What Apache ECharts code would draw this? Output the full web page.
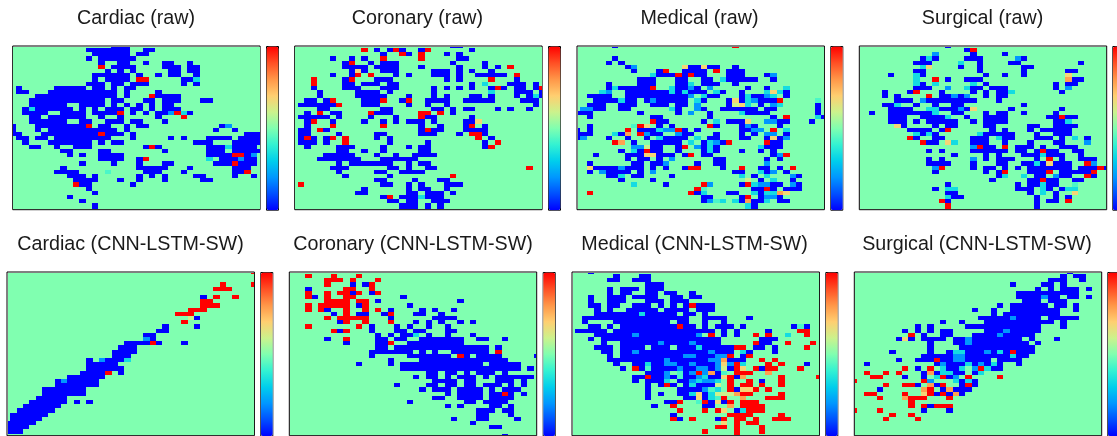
<!DOCTYPE html>
<html><head><meta charset="utf-8">
<style>html,body{margin:0;padding:0;background:#fff;overflow:hidden}#c{width:1117px;height:436px}</style>
<script src="https://cdn.jsdelivr.net/npm/echarts@6/dist/echarts.min.js"></script>
</head><body><div id="c"></div>
<script>
// Each row: tokens "col" or "from-to", optional suffix for the cell level. Unlisted cells = neutral 0.5.
const levels = {b:0, l:0.2, c:0.34, t:0.43, g:0.6, y:0.68, o:0.78, r:1};
const neutralValue = 0.5;
const gridSize = 40;
const titles = ["Cardiac (raw)","Coronary (raw)","Medical (raw)","Surgical (raw)","Cardiac (CNN-LSTM-SW)","Coronary (CNN-LSTM-SW)","Medical (CNN-LSTM-SW)","Surgical (CNN-LSTM-SW)"];
const paletteColors = ["#0000ff","#004fff","#0096ff","#00ceec","#33f2d2","#80ffb0","#ccf28c","#ffce70","#ff9648","#ff4f24","#ff0000"];

const cardiacRaw = [
"16-18","12-18 21-22","13-18 20-21","12 14-19","14 17-18 21 24-25 28","14r 16-19 24-26 28-29","15 17 19 25-26 28-29","13-18 20 23 25-26 29",
"13 15-18 20-21r 27-28 29c","12-14 16-17 19-21 27 29","1 7-11 13-14 16 18-19","1-2 6-16 18 23","4-16 18 22r 23-26","3-14 16-17 21-22 24-26 30-31","3-8 11-14 16 18 20 22 24-25",
"2 3c 4-9 11 13 15-17 19-20 22 24-26","2-5 8-11 13-16 17r 19 21 23-24 25l 26r 27c 28","3-4 6-11 14 17 23 27r","3-8 11-12 15-17 19-20 24","0 4-11 12r 14-15 18 20-21 33 34l",
"0 4 6-16 18 32 35","0-1 5-13 14r 15-17 19 37-39","1-2 4-5 7-15 19 25 27 31-34 36-39","2 6-12 14 16-17 29-31 35-39","3-4 7 10-12 21 22r 23 31-33 34c 35-38",
"8-9 14-15 24 31-33 35-39","9 11 14-17 31-34 35-36r 37 38l","14-17 20 21r 31c 33-35 36l 37-38","11 16 20 24-25 32-34 35r 36-38","8 20-24 28 35-37",
"7-10 15t 21-23 27 35-36 37r","9-11 13 20 22 24 29-30 35 38","10-13 17 20 24 30-31","10r 11-12 19","12","13","9","11","13","13"];

const coronaryRaw = [
"25-26","11r 13 15 16r 17 20 21r 28","14 17r 18 20r 24 26","6 9 11 14r 20r 26-27","8 9r 12 14-16 25 30","8-11 13-16 20 26 30 32 34r","9 10y 11 14-16 22-24 26 28 31",
"6 9 10r 12r 16 18 22-24 26 29-33 35r","3r 8 9r 13-15 24 26 31r 35","3r 8-9 11-13 15-16 28 30c 34-36 38","3 8-10 14-16 22 24 26 28 31 32r 33 35-36 38 39r",
"4 10-13 15 22 31c 35-37 39","4 10-14 18 22 24 28-29 31 35 37 38c 39","2-3 5 6r 11-13 14r 17 18r 21-24 27-31 36-38","1-3 4-6 7r 11-13 18 21 24 38",
"4-5 14-15 22-23 25 27-28 32 34 37","2 4r 6-7 12r 13-15 20-21r 23r 25","1-5 7 12 16 20r 21-22 28","2 3r 6 11 14 16 18-20 22 27-28 29y","2 6r 14r 20 23 27 28r 30",
"1-2 4r 5 20 21r 22-23 27-30","1-2 7 13-14 20-22 26 28-29r 30","1 2r 3 5 6r 8r 13 15 29r 31","1-3 5 8r 15 21 30 32r","2 7-9 14 18 20-21 30 31r","7-8 11 14 20-21","5-9 13 16 19-22",
"4-10 14-19","7 9-15 18 20-21","6-8 15-16 18 21-22 37r","7 13-14 17-20","8 15 25r","13-14 19 23-24","1r 14-15 18 20 24-26","11 18 20-21 24","10-11 18-19 21-23 25",
"14 15r 17-19 20c 21-23","15-16 18-19 22-24","17-19 21 23","17-19 21 23"];

const medicalRaw = [
"6 25r","","","6","5 7","8 9l 17y 18-19 20y 21-22 25","9 13 14r 17-20 22r 24-26","12c 13-15 16r 17 18r 19-20 24-26 30 31l","10-12 16-17 20-21 23c 24-28 31","5 10-12 16-17 18c 20-22 25",
"5 6c 7-11 12r 15c 16-17 18l 19 21l 27 30 33c","4c 5l 8-14 15c 16 17c 18-20 22c 23 26 30c 31y 32c 33","2-5 8-17 18l 20c 21-22 26 27c 28-29 30l 31c 33","3-6 7c 8-9 11 12l 13-17 19c 20 24 25y 26 27c 28l 29-31 32r 38t",
"2-4 7-9 12-14 16-17 19l 24 25g 26y 27c 29 31l 32c 38","1-2l 3-4 7-8 15c 16 19l 20 23-28 30-31 38","0 1-2 10 16 18l 21 26c 27-30 38","2 12-13 21 31 33r 38c 39","12r 13-14 20 22c 24-26 27y 30l 31l 32-33 37",
"2 9t 10r 11y 13 15 21r 22 26 27l 28 32","0 2 8r 10-12 13c 14-15l 16r 17 19 26-27 28l 29l 31r 33c","0-2 6c 7 8o 10r 11l 12-13 16l 17-18 22 26 28 30-31l 33",
"0 1l 5 8 11 13c 14-17 19c 21-22 26-27 30 31y 32 33l","6r 7o 9 12-13 14-16 18c 20 21c 22l 23 24r 30r 31-32","9-10l 11g 12-13 16 17r 19l 20 21c 22 29c 30-32",
"7 9c 10 11r 12-13 16 20 21c 22 26 29 31","3 8-10 11-12y 13-15 17 18r 20-21 31 32l 33r","8 10-11 13 15l 22-23 30 32","2 9-10 12-13 14l 19 22-23 30l",
"2y 3-6 7l 8-10 12 14 17 18-19r 23 26r 29-30 32 34r","2 4l 5-8 10 12l 25-26 29c 30 31l 33","5-6 7c 9-10 15 26c 28 30c 34l 35","7 12 27g 29 31c 34",
"9c 14 20r 21l 26 27r 28c 29-30l 31-32 34l 35","19r 20t 28-29 30r 31 33-35","2r 18r 19 20c 24-25 28c 29 30-31c 32o 33y","20-21 26 27r 29 30-31l 32","20 21l 22t 23c 25c 26 27o 28-29 30c 32-33","27c 28","27c 28"];

const surgicalRaw = [
"14","17 18r","12l 18 23","10 11c 12 17-19 25l 26","9-11 16c 19 24-25 35","10c 11y 16 19 26-27","9-10 19 26 33-34","5 9c 10 20 23 26 33y","9c 12r 14 17-19 33o 34-35",
"9c 10 12c 18c 20 31 33-34","9-11 14l 17c 18-19 21-23 31 33l","4 8 9r 13 18 20 22-23 24c 32","4 6 11r 13-14 15l 16 17l 20 22-23","6-8 10l 11-18 22","4-5 6c 9 12 15-16 26",
"5-8 11-12c 13-15 16l 17 18y 24 32","2 5-11 12c 15-16 20 22-23 26 31","5-7 10-13 14c 17 20-23 30-31 32r 33-34","5-7 9 11-15 18 20-23 31-32 33c","6y 7 12 14-15 20-21 27-28 31-34",
"8-11 13 14r 21 23 27 29-33","9c 10 11c 12 19c 20-24 28 31-33","8r 9 12-13 18-20 22c 23-24 28-30 32 34c 36","10r 11-12 14y 15c 18-20 23 27 31-32 36l",
"18l 19r 20-21 23r 25-27 29 32-34","11 13 18-23 25-26 28 29r 30-31 34-35","15 20 22 26-28 29c 30-32 35","11 13 18l 20 22-24 28 30r 32 35-37",
"11-14 18 22-23 26-27 28c 29 30y 31-33 36r 37l","12l 13r 18 20-21 23 25 27-33 35-37 38r 39","12 20 22 23r 27-29 30r 32-36 37r","22 23c 26c 28-29 31l 32-33 36r 37","21 27-28 29r 30-31 34-35",
"14 25 27-28 29c 30 31 34t","12 14-15c 25-27 29c 30 32 33-34c","14-15 27 29c 31 34y","14c 15-16 28 31 33","13r 14 28 30-31 33r","14r 28","14r 28"];

const cardiacModel = [
"39r","","","34r 39r","33-35r","","31 33r 36r","31-32r","31-32r 33r","29-31r","27-29r","29g 30","28r","25 30","24-25","22-23","22l 23","19-22 23r 24 28","18-20","17-20",
"17-19","13 15l 16-18 19c","13-17","13-18","12-15 16r 18","10-15","8 9l 10-14","8-14","6-12","6-12","5-9","4-9 11 13","3-8","2-7","1-6","1-5","0-4","0-3","0-2",""];

const coronaryModel = [
"","3r 7r 11r","6-8r 10r 14r","6r 10 12 13r","3 9-10r 13r","3r 6r 8-9r 10 11r 13 14r","3r 4 6r 9-10r 18","6-9r 11-12r 14 27","3r 5-9r 11 12r 19","3r 5r 6 9r 12r 14r 16 21 23 26",
"7 9r 11-12 15 16r 20-21 24","6r 8-12r 16 23-26","8 9r 12r 16r 20 22 24 27 29","3r 11r 13 17 19 22 25","7r 8 9r 13 17-18 20-21 25-26","14 16 18-19 20c 22 25 29",
"6 9r 14-15 17-18 21-27 30-31 34","9 14-15 16r 19-27","14-15 17-31 33","13-19 21 23 26-31 33r","13 19-25 27r 28 30-33 39","16 21-34","11 16 18-30 32-36","18-36 38",
"22-23 25-26 28 30-32 34","20 22-23 25 27-29 31 33-38","23-26 28-29 33-35 37","17 22-23 25-26 28-29 31-33 35 37","21 23-25 27-30 32 34-36","25 27-30 32-33 34r 35 37",
"23-24 27-30 32-35","19 28-29 31-34","25 27 32-33 35","30-32 34-35","30-31 35","26 30-31 36","29","32-33","","34"];

const medicalModel = [
"3","7 11-12","6-7 10-12","12-14","6 8-10 12-14","6 8-9 12-13 15-16 19","3 6-8 10-13 16-17 19-20","3 6-8 12-14 16-18","3-4 6-7 10-12 14 16 18 19r 20-22","4 6 9-13 15-18 20-22",
"4-10 11c 12-16 18-19 21","2-18 21-24 28","2 7-15 17-18 21 24","3-4 6 8-16 17r 18-19 21 23-25 27 35 36t 37","1-5 7-22 24 26 31 36-37r","4-9 10l 11-19 20l 22r 24 26 29r 31r 34c 37r",
"3 5-23 30-31 32","5 8-13 14l 15-18 19l 20-23 29r 30-31 34r 38r","4-6 8-11 13-15 17-19 20c 21-25 26-27r 29-30 32 37r","5-6 8-9 10l 11-21 22l 23-25 27c 28 32",
"6 8-17 18-19l 20-22 23-24l 25r 27 28r","6-14 15l 16-21 22l 23l 24o 25-27 30r 32r","7 10-11 12c 13-14 15-16l 17-18 19l 20-21 22 23l 24y 25l 26r 27c 31r 33r 37",
"8 10r 11 12t 13-14 15-16 17l 18-19 20-21l 22 23l 24g 25 26r 27y 29r 30 31-32r 36r","12-14 15l 17t 18 19l 20r 21l 22o 23 24t 26-28r 31o",
"10-11 12r 13-14 15l 16 17t 18-19 20l 21c 22-23 24y 25r 26 27o 33r 39r","10 12-14 15c 17-18 19l 20c 21-22l 23c 25r 28r 30 33r","12 14 15r 16 18 19c 20-22 23g 25r 27-28r 30r 33r",
"12 17-20 21l 22t 23c 25r 26 27-28y 29r 31r","12 14 17-18 19c 20y 21 22c 23g 24-25g 26o 27-28r 33r","12 18-19 20y 21 22c 23t 24r 27o 31-33r",
"15-16 17r 20t 21r 22 23y 24 25r 27-29r","13 16r 21-22 25o 27-30r","17r 21r 23r 24y 26 27c 28-30r","16 25-28r 33r","16r 17 19r 23 24r 26-27r 29r 32-34r","24y 26r 28-29r","23-24r 26r 30r","21r 26r 30r","26r"];

const surgicalModel = [
"34","33 35-36","31-33 36","25 30-31 33","29 31 33-35 37","26-29 30 31-33 34-35","26-29 30l 31-32 34-35 37","27-29 31-33","23 25-30 32-33 35","19 22 25-32 35","22 24-32","20-24 25l 26-29 31-35",
"14 17 21-31 33","10 12 18-29 33","8 10 12 14-15 21-23 24l 25-29","9r 11 14-15 19-22 23l 24-28","7 8y 9 11-14 16-17 18l 19-26 28 32","12 16-17 18l 19-27 29","12 17-28","6 12 15 16-17c 18-20 21l 22 23c 24 25r 26-28",
"11-14 15 16-17l 18-24 25c 26-27","7 10-12 13r 14-15 16-17l 18-21 23-26","2 13 14l 15-17 18c 19 20l 21 22c 23 26","8r 10 12r 14c 15-16 17c 19l 20r 21c 22-23","2r 5r 7r 11 12o 13 14-15c 16-17 19 20c",
"3-4r 8 11 13c 14r 15 16l 18r 23r","0r 11r 12l 16c 17 18c 19","5r 8-9r 10 12o 13 14r 17 18r 19","4 11o 12r 14 15o 16-18","2-3r 8r 11y 12r 13 14r 15 16o 17","4r 8o 9-11r 15r","9r",
"9r 11r 12 13-15r","0r 4r 11 15","6r 9r","5r 10r","","","",""];

const panelData = [cardiacRaw, coronaryRaw, medicalRaw, surgicalRaw, cardiacModel, coronaryModel, medicalModel, surgicalModel];

const panelLayout = [
  {l:12.7, t:46, cb:266, cx:131, ty:13.5},{l:294.7, t:46, cb:548, cx:412.5, ty:13.5},{l:577, t:46, cb:830.3, cx:694.5, ty:13.5},{l:859.3, t:46, cb:1112.3, cx:977.5, ty:13.5},
  {l:7, t:272, cb:260.3, cx:125.5, ty:240},{l:289.3, t:272, cb:542.7, cx:408, ty:240},{l:572, t:272, cb:825.3, cx:689.5, ty:240},{l:854.3, t:272, cb:1107.3, cx:972, ty:240}
];
const plotW = 247.4, plotH = 163.7;

function decode(rows) {
  const m = [];
  for (let r = 0; r < gridSize; r++) { m.push(new Array(gridSize).fill(neutralValue)); }
  rows.forEach((row, r) => {
    row.split(' ').filter(Boolean).forEach(tok => {
      const mt = tok.match(/^(\d+)(?:-(\d+))?([a-z])?$/);
      const a = +mt[1], b = mt[2] ? +mt[2] : a, v = levels[mt[3] || 'b'];
      for (let c = a; c <= b; c++) m[r][c] = v;
    });
  });
  const out = [];
  for (let r = 0; r < gridSize; r++) for (let c = 0; c < gridSize; c++) out.push([c, r, m[r][c]]);
  return out;
}

function renderCell(params, api) {
  const x = api.value(0), y = api.value(1);
  const p0 = api.coord([x - 0.5, y - 0.5]), p1 = api.coord([x + 0.5, y + 0.5]);
  const cs = params.coordSys;
  const x0 = Math.round(Math.max(p0[0], cs.x + 0.5)), x1 = Math.round(Math.min(p1[0], cs.x + cs.width - 0.5));
  const y0 = Math.round(Math.max(p0[1], cs.y + 0.5)), y1 = Math.round(Math.min(p1[1], cs.y + cs.height - 0.5));
  return {type:'rect', shape:{x:x0, y:y0, width:x1 - x0, height:y1 - y0}, style:{fill:api.visual('color')}, silent:true};
}

const option = {animation:false, backgroundColor:'#fff', title:[], grid:[], xAxis:[], yAxis:[], visualMap:[], series:[]};
panelData.forEach((rows, i) => {
  const L = panelLayout[i];
  option.title.push({text:titles[i], left:L.cx, top:L.ty, textAlign:'center', textVerticalAlign:'middle',
    textStyle:{fontFamily:'Liberation Sans', fontSize:19.7, fontWeight:'normal', color:'#1a1a1a'}});
  option.grid.push({left:L.l, top:L.t, width:plotW, height:plotH, show:true, borderColor:'#000', borderWidth:1, backgroundColor:'transparent'});
  const ax = {type:'value', min:0, max:gridSize - 1, gridIndex:i, axisLine:{show:false}, axisTick:{show:false}, axisLabel:{show:false}, splitLine:{show:false}};
  option.xAxis.push(Object.assign({}, ax));
  option.yAxis.push(Object.assign({}, ax, {inverse:true}));
  option.visualMap.push({type:'continuous', seriesIndex:i, dimension:2, min:0, max:1, left:L.cb, top:L.t, itemWidth:12, itemHeight:plotH,
    padding:0, borderColor:'#000', borderWidth:1, text:null, showLabel:false, calculable:false, hoverLink:false, inRange:{color:paletteColors}});
  option.series.push({type:'custom', xAxisIndex:i, yAxisIndex:i, data:decode(rows), renderItem:renderCell, encode:{x:0, y:1}, clip:false, silent:true, progressive:0});
});
const chart = echarts.init(document.getElementById('c'), null, {renderer:'canvas'});
chart.setOption(option);
</script></body></html>
